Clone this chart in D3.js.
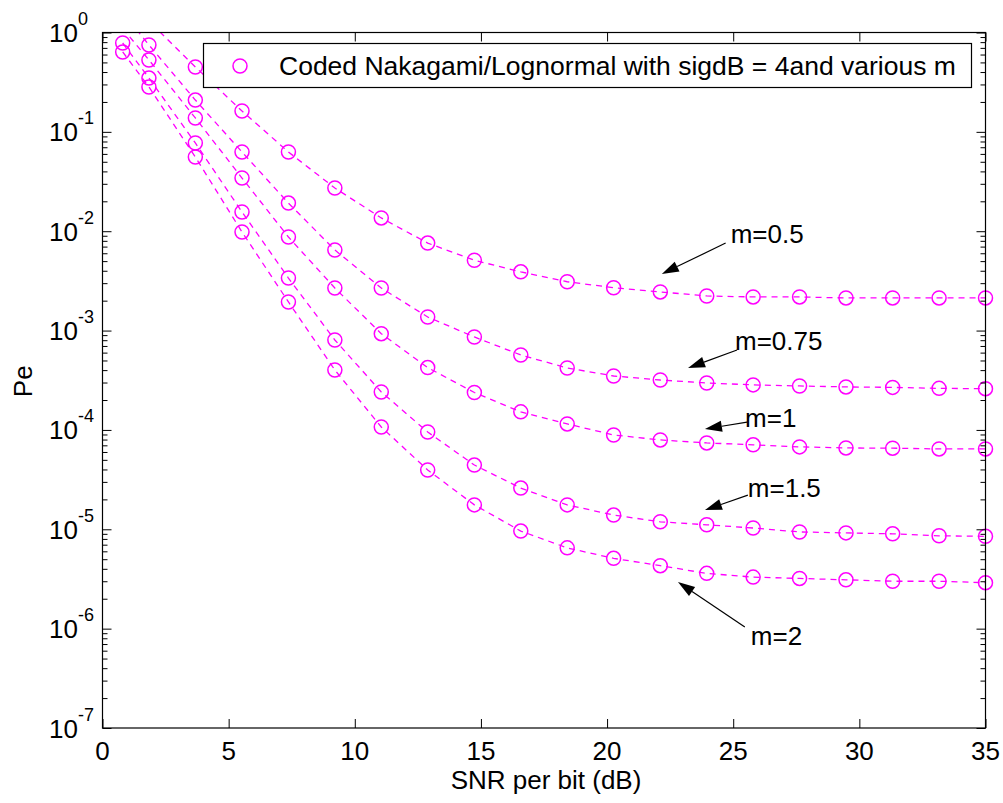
<!DOCTYPE html>
<html><head><meta charset="utf-8">
<script src="https://cdn.jsdelivr.net/npm/d3@7"></script>
<style>body{margin:0;background:#fff}</style>
</head><body><svg id="c" width="1003" height="803"></svg>
<script>
// ---------- data ----------
const snr = [0.8, 1.84, 3.68, 5.53, 7.37, 9.21, 11.05, 12.89, 14.74, 16.58, 18.42, 20.26, 22.11, 23.95, 25.79, 27.63, 29.47, 31.32, 33.16, 35];
const pe_m05  = [2.6, 1.3, 0.45, 0.162, 0.0627, 0.0272, 0.0136, 0.0076, 0.0051, 0.0039, 0.0031, 0.0027, 0.00245, 0.00223, 0.00218, 0.00218, 0.00213, 0.00213, 0.00213, 0.00213];
const pe_m075 = [1.6, 0.749, 0.209, 0.0627, 0.0192, 0.00647, 0.00268, 0.00137, 0.000862, 0.000568, 0.00042, 0.000349, 0.000318, 0.000297, 0.000284, 0.000277, 0.000271, 0.000268, 0.000262, 0.00026];
const pe_m1   = [1.1, 0.529, 0.138, 0.0343, 0.00874, 0.00268, 0.000931, 0.000424, 0.000238, 0.000152, 0.000115, 0.000089, 0.0000793, 0.000074, 0.0000708, 0.0000675, 0.0000659, 0.0000655, 0.0000644, 0.0000644];
const pe_m15  = [0.784, 0.348, 0.0773, 0.0156, 0.00338, 0.000804, 0.000241, 0.0000953, 0.0000443, 0.000026, 0.0000176, 0.0000139, 0.0000119, 0.0000111, 0.0000103, 0.0000094, 0.0000092, 0.000009, 0.0000086, 0.0000085];
const pe_m2   = [0.637, 0.283, 0.0558, 0.00982, 0.00194, 0.000401, 0.000107, 0.0000395, 0.0000176, 0.0000096, 0.0000065, 0.0000051, 0.0000043, 0.0000036, 0.0000033, 0.0000032, 0.0000031, 0.000003, 0.000003, 0.0000029];
const seriesList = [pe_m05, pe_m075, pe_m1, pe_m15, pe_m2];

const xTicks = [0, 5, 10, 15, 20, 25, 30, 35];
const yTickExps = [0, -1, -2, -3, -4, -5, -6, -7];
const legendLabel = "Coded Nakagami/Lognormal with sigdB = 4and various m";
const xLabel = "SNR per bit (dB)";
const yLabel = "Pe";

// annotations (data coordinates)
const annLabels = ["m=0.5", "m=0.75", "m=1", "m=1.5", "m=2"];
const annTextX  = [24.9, 25.07, 25.47, 25.58, 25.70];
const annTextY  = [7.6e-3, 6.38e-4, 1.07e-4, 2.11e-5, 6.85e-7];
const annFromX  = [24.7, 25.15, 25.55, 25.58, 25.46];
const annFromY  = [7.6e-3, 6.38e-4, 1.20e-4, 2.21e-5, 1.04e-6];
const annToX    = [22.17, 23.21, 23.88, 23.88, 22.81];
const annToY    = [3.71e-3, 4.2e-4, 1.02e-4, 1.56e-5, 2.95e-6];

// ---------- layout ----------
const L = 102.5, R = 985.5, T = 32.5, B = 728;
const MAG = "#ff00ff";
const FONT = "'Liberation Sans', Arial, Helvetica, sans-serif";
const svg = d3.select("#c");
svg.append("rect").attr("width", 1003).attr("height", 803).attr("fill", "#fff");

const x = d3.scaleLinear().domain([0, 35]).range([L, R]);
const y = d3.scaleLog().domain([1e-7, 1]).range([B, T]);

svg.append("defs").append("clipPath").attr("id", "clip")
  .append("rect").attr("x", L).attr("y", T).attr("width", R - L).attr("height", B - T);

// ---------- series ----------
const line = d3.line().x(d => x(d[0])).y(d => y(d[1]));
const gData = svg.append("g");
seriesList.forEach(s => {
  const pts = snr.map((v, i) => [v, s[i]]);
  gData.append("path").datum(pts).attr("d", line)
    .attr("clip-path", "url(#clip)")
    .attr("fill", "none").attr("stroke", MAG).attr("stroke-width", 1.3)
    .attr("stroke-dasharray", "6,5");
  gData.selectAll(null).data(pts.filter(p => p[1] <= 1)).enter().append("circle")
    .attr("cx", d => x(d[0])).attr("cy", d => y(d[1])).attr("r", 7)
    .attr("fill", "none").attr("stroke", MAG).attr("stroke-width", 1.5);
});

// ---------- axes ----------
const gAx = svg.append("g").attr("font-family", FONT);
const majorLen = 9, minorLen = 5;
gAx.append("g").attr("transform", `translate(0,${B})`)
  .call(d3.axisBottom(x).tickValues(xTicks).tickSizeInner(-majorLen).tickSizeOuter(0).tickFormat(""));
gAx.append("g").attr("transform", `translate(0,${T})`)
  .call(d3.axisTop(x).tickValues(xTicks).tickSizeInner(-majorLen).tickSizeOuter(0).tickFormat(""));
const majors = yTickExps.map(e => Math.pow(10, e));
const minors = y.ticks().filter(v => Math.abs(Math.log10(v) - Math.round(Math.log10(v))) > 1e-6);
gAx.append("g").attr("transform", `translate(${L},0)`)
  .call(d3.axisLeft(y).tickValues(majors).tickSizeInner(-majorLen).tickSizeOuter(0).tickFormat(""));
gAx.append("g").attr("transform", `translate(${R},0)`)
  .call(d3.axisRight(y).tickValues(majors).tickSizeInner(-majorLen).tickSizeOuter(0).tickFormat(""));
gAx.append("g").attr("transform", `translate(${L},0)`)
  .call(d3.axisLeft(y).tickValues(minors).tickSizeInner(-minorLen).tickSizeOuter(0).tickFormat(""));
gAx.append("g").attr("transform", `translate(${R},0)`)
  .call(d3.axisRight(y).tickValues(minors).tickSizeInner(-minorLen).tickSizeOuter(0).tickFormat(""));
gAx.selectAll(".domain").remove();
gAx.selectAll(".tick line").attr("stroke", "#000").attr("stroke-width", 1);
svg.append("rect").attr("x", L).attr("y", T).attr("width", R - L).attr("height", B - T)
  .attr("fill", "none").attr("stroke", "#000").attr("stroke-width", 1.2);

// tick labels
gAx.selectAll(null).data(xTicks).enter().append("text")
  .attr("x", d => x(d)).attr("y", B + 32).attr("text-anchor", "middle")
  .attr("font-size", 26).attr("fill", "#000").text(d => d);
yTickExps.forEach(e => {
  const yy = y(Math.pow(10, e));
  gAx.append("text").attr("x", 78).attr("y", yy + 9.5).attr("text-anchor", "end")
    .attr("font-size", 26).attr("fill", "#000").text("10");
  gAx.append("text").attr("x", 78).attr("y", yy - 7.5).attr("text-anchor", "start")
    .attr("font-size", 18).attr("fill", "#000").text(e === 0 ? "0" : "-" + Math.abs(e));
});

// axis labels
gAx.append("text").attr("x", (L + R) / 2 + 2).attr("y", 789).attr("text-anchor", "middle")
  .attr("font-size", 26).attr("fill", "#000").text(xLabel);
gAx.append("text").attr("transform", `translate(32,${(T + B) / 2 + 1}) rotate(-90)`)
  .attr("text-anchor", "middle").attr("font-size", 26).attr("fill", "#000").text(yLabel);

// ---------- legend ----------
const gLeg = svg.append("g").attr("font-family", FONT);
gLeg.append("rect").attr("x", 203.5).attr("y", 43.5).attr("width", 768).attr("height", 44)
  .attr("fill", "#fff").attr("stroke", "#000").attr("stroke-width", 1.2);
gLeg.append("circle").attr("cx", 240).attr("cy", 66).attr("r", 7)
  .attr("fill", "none").attr("stroke", MAG).attr("stroke-width", 1.5);
gLeg.append("text").attr("x", 279).attr("y", 75).attr("font-size", 26.5).attr("fill", "#000").text(legendLabel);

// ---------- annotations ----------
const gAnn = svg.append("g").attr("font-family", FONT);
annLabels.forEach((lab, i) => {
  const x0 = x(annFromX[i]), y0 = y(annFromY[i]), x1 = x(annToX[i]), y1 = y(annToY[i]);
  const ang = Math.atan2(y1 - y0, x1 - x0);
  const hl = 17, hw = 5.5;
  const bx = x1 - hl * Math.cos(ang), by = y1 - hl * Math.sin(ang);
  gAnn.append("line").attr("x1", x0).attr("y1", y0).attr("x2", bx).attr("y2", by)
    .attr("stroke", "#000").attr("stroke-width", 1.2);
  const p1 = [bx + hw * Math.sin(ang), by - hw * Math.cos(ang)];
  const p2 = [bx - hw * Math.sin(ang), by + hw * Math.cos(ang)];
  gAnn.append("path").attr("d", `M${x1},${y1}L${p1[0]},${p1[1]}L${p2[0]},${p2[1]}Z`).attr("fill", "#000");
  gAnn.append("text").attr("x", x(annTextX[i])).attr("y", y(annTextY[i]))
    .attr("font-size", 26).attr("fill", "#000").text(lab);
});
</script></body></html>
